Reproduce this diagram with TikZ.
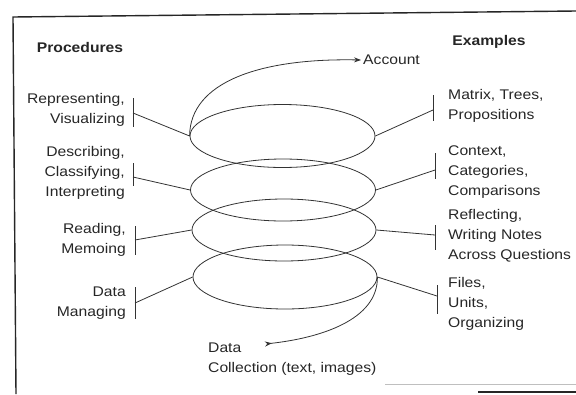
\documentclass[tikz,border=0pt]{standalone}
\usepackage{fontspec}
\setmainfont{Liberation Sans}[FakeStretch=1.12]
\usetikzlibrary{shapes.geometric,arrows.meta}
\begin{document}
\begin{tikzpicture}[x=1pt,y=-1pt,
  lab/.style={font=\fontsize{14}{20}\selectfont, text=black!85, inner sep=0pt},
  head/.style={font=\fontsize{14}{20}\selectfont\bfseries, text=black!85, inner sep=0pt},
  loopnode/.style={ellipse, draw=black!80, line width=0.8pt, minimum width=185pt, minimum height=63pt, inner sep=0pt},
  conn/.style={draw=black!80, line width=0.8pt},
  barline/.style={draw=black!80, line width=0.9pt},
  frame/.style={draw=black!85, line width=1.4pt}
]
\useasboundingbox (0,0) rectangle (576,394);
% frame
\coordinate (ftl) at (13,17);
\coordinate (ftr) at (576,11);
\coordinate (fbl) at (16,394);
\draw[frame] (ftr) -- (ftl) -- (fbl);
\coordinate (fb1) at (385,384);
\coordinate (fb2) at (576,384);
\draw[draw=black!25, line width=1pt] (fb1) -- (fb2);
\coordinate (fb3) at (478,392);
\coordinate (fb4) at (576,392);
\draw[frame] (fb3) -- (fb4);

% headings
\node[head] (proc) at (80,47) {Procedures};
\node[head] (exam) at (489,42) {Examples};

% loops of the spiral
\node[loopnode] (l1) at (282.5,136) {};
\node[loopnode, minimum height=62pt] (l2) at (283,190) {};
\node[loopnode, minimum width=184pt, minimum height=62pt] (l3) at (284,230) {};
\node[loopnode, minimum width=184pt, minimum height=64pt] (l4) at (285,277) {};

% ends of spiral
\node[lab, anchor=west] (acc) at (363,60) {Account};
\draw[conn, -{Stealth[length=7pt,width=5pt]}] (l1.west) .. controls (190,82) and (260,58) .. ([xshift=-2pt]acc.west);
\node[lab, anchor=west, align=left] (dc) at (208,359) {Data\\Collection (text, images)};
\coordinate (dctip) at (265,344);
\draw[conn, {Stealth[reversed,length=7pt,width=5pt]}-] (dctip) .. controls (320,338) and (378,320) .. (l4.east);

% left labels
\node[lab, anchor=east, align=right] (p1) at (125,110) {Representing,\\Visualizing};
\node[lab, anchor=east, align=right] (p2) at (125,173) {Describing,\\Classifying,\\Interpreting};
\node[lab, anchor=east, align=right] (p3) at (126,240) {Reading,\\Memoing};
\node[lab, anchor=east, align=right] (p4) at (126,303) {Data\\Managing};

\draw[barline] (133,98) -- (133,127);
\draw[barline] (133,163) -- (133,186);
\draw[barline] (135,226) -- (135,255);
\draw[barline] (135,287) -- (135,319);
\coordinate (pa1) at (133,113);
\coordinate (pa2) at (133,177);
\coordinate (pa3) at (135,240);
\coordinate (pa4) at (135,303);
\draw[conn] (pa1) -- (l1.west);
\draw[conn] (pa2) -- (l2.west);
\draw[conn] (pa3) -- (l3.west);
\draw[conn] (pa4) -- (l4.west);

% right labels
\node[lab, anchor=west, align=left] (e1) at (448,106) {Matrix, Trees,\\Propositions};
\node[lab, anchor=west, align=left] (e2) at (448,172) {Context,\\Categories,\\Comparisons};
\node[lab, anchor=west, align=left] (e3) at (448,236) {Reflecting,\\Writing Notes\\Across Questions};
\node[lab, anchor=west, align=left] (e4) at (448,304) {Files,\\Units,\\Organizing};

\draw[barline] (433,95) -- (433,121);
\draw[barline] (435,153) -- (435,179);
\draw[barline] (435,225) -- (435,250);
\draw[barline] (437,285) -- (437,314);
\coordinate (ea1) at (433,110);
\coordinate (ea2) at (435,170);
\coordinate (ea3) at (435,235);
\coordinate (ea4) at (437,296);
\draw[conn] (l1.east) -- (ea1);
\draw[conn] (l2.east) -- (ea2);
\draw[conn] (l3.east) -- (ea3);
\draw[conn] (l4.east) -- (ea4);
\end{tikzpicture}
\end{document}
